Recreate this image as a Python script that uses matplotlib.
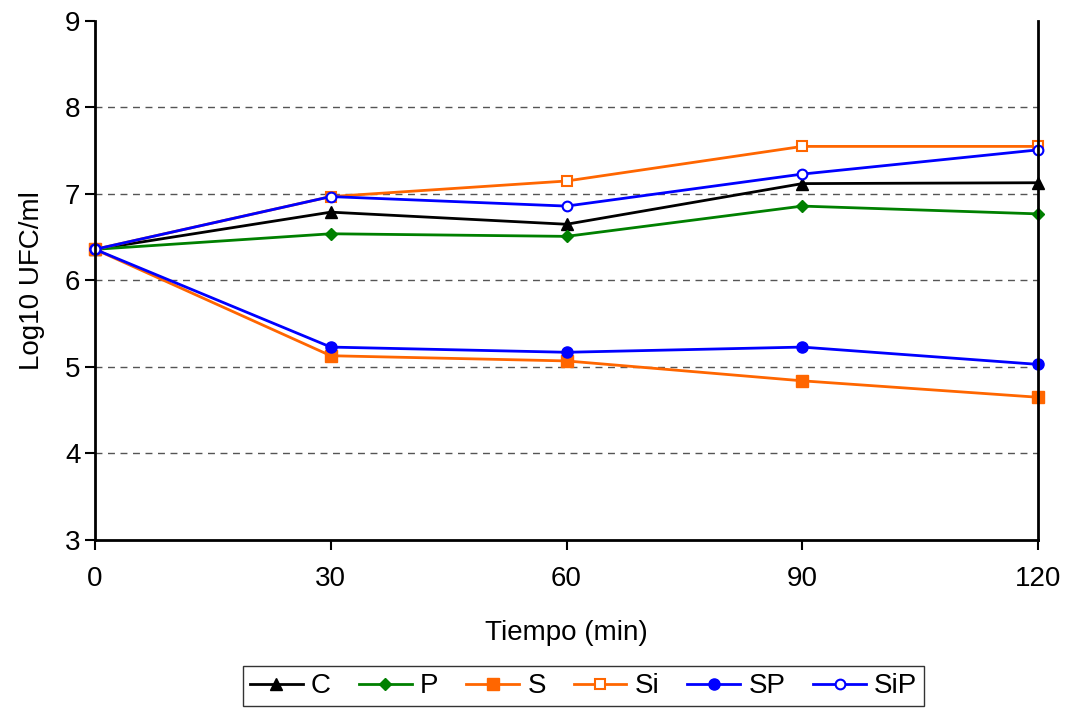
import numpy as np
import matplotlib.pyplot as plt

plt.rcParams['font.family'] = ['Liberation Sans', 'DejaVu Sans']

# Datos
tiempo = [0, 30, 60, 90, 120]
C = [6.36, 6.79, 6.65, 7.12, 7.13]
P = [6.36, 6.54, 6.51, 6.86, 6.77]
S = [6.36, 5.13, 5.07, 4.84, 4.65]
Si = [6.36, 6.97, 7.15, 7.55, 7.55]
SP = [6.36, 5.23, 5.17, 5.23, 5.03]
SiP = [6.36, 6.97, 6.86, 7.23, 7.51]

fig = plt.figure(figsize=(10.71, 7.09), dpi=100)
ax = fig.add_axes([0.0887, 0.2384, 0.8805, 0.732])

estilo = dict(lw=2, clip_on=False)
ax.plot(tiempo, C, color='black', marker='^', markersize=9, label='C', **estilo)
ax.plot(tiempo, P, color='#008000', marker='D', markersize=6, label='P', **estilo)
ax.plot(tiempo, S, color='#FF6600', marker='s', markersize=8, label='S', **estilo)
ax.plot(tiempo, Si, color='#FF6600', marker='s', markersize=7,
        markerfacecolor='white', markeredgewidth=1.5, label='Si', **estilo)
ax.plot(tiempo, SP, color='#0000FF', marker='o', markersize=8, label='SP', **estilo)
ax.plot(tiempo, SiP, color='#0000FF', marker='o', markersize=7,
        markerfacecolor='white', markeredgewidth=1.5, label='SiP', **estilo)

ax.set_xlim(0, 120)
ax.set_ylim(3, 9)
ax.set_xticks(tiempo)
ax.set_yticks(range(3, 10))
for yv in range(4, 9):
    ax.axhline(yv, color='#555555', ls=(0, (5, 4)), lw=1, zorder=0)

ax.spines['top'].set_visible(False)
for s in ['left', 'right', 'bottom']:
    ax.spines[s].set_linewidth(2)
ax.tick_params(axis='both', labelsize=20, width=1.5, length=7, direction='out')
ax.tick_params(axis='x', pad=12)

ax.set_xlabel('Tiempo (min)', fontsize=20, labelpad=20)
ax.set_ylabel('Log10 UFC/ml', fontsize=20, labelpad=14)

leg = fig.legend(loc='lower center', bbox_to_anchor=(0.545, 0.0), ncol=6, fontsize=20,
                 frameon=True, fancybox=False, edgecolor='black', handlelength=1.9,
                 handletextpad=0.3, columnspacing=1.0, borderpad=0.25,
                 borderaxespad=0.1)
leg.get_frame().set_linewidth(1)

fig.savefig('out.png', dpi=100)
